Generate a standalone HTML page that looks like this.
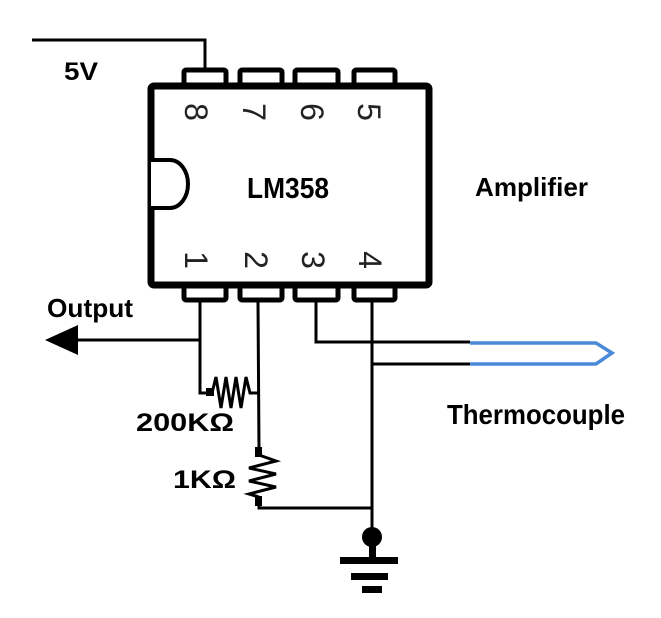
<!DOCTYPE html>
<html><head><meta charset="utf-8"><style>body{margin:0;background:#fff}svg{display:block}</style></head>
<body>
<svg width="661" height="618" viewBox="0 0 661 618" xmlns="http://www.w3.org/2000/svg" font-family="Liberation Sans, sans-serif">
<rect width="661" height="618" fill="#fff"/>
<g fill="none" stroke="#000" stroke-width="3">
<polyline points="32,40 205,40 205,68"/>
<line x1="75" y1="340" x2="200" y2="340"/>
<polyline points="200,302 200,393 212,393"/>
<polyline points="212,393 216,377 221,408 226,377 231,408 236,377 241,408 246,377 250,393 258,393"/>
<line x1="258" y1="302" x2="259" y2="450"/>
<polyline points="259,455 276,461 249,468 276,474 249,481 276,487 249,494 259,497"/>
<polyline points="259,497 259,508 372,508"/>
<polyline points="316,302 316,342 470,342"/>
<line x1="372" y1="302" x2="372" y2="545"/>
<line x1="372" y1="364" x2="470" y2="364"/>
</g>
<rect x="255" y="447" width="7" height="10" fill="#000"/>
<rect x="255" y="496" width="7" height="10" fill="#000"/>
<rect x="206" y="388" width="8" height="8" fill="#000"/>
<polygon points="45,340 78,325 78,355" fill="#000"/>
<polyline points="470,343 596,343 612,353 596,364 470,364" fill="none" stroke="#4a8ad8" stroke-width="3.5"/>
<circle cx="372" cy="537" r="10" fill="#000"/>
<rect x="369" y="540" width="7" height="18" fill="#000"/>
<rect x="340" y="557" width="58" height="7" fill="#000"/>
<rect x="351" y="573" width="37" height="7" fill="#000"/>
<rect x="362" y="586" width="20" height="7" fill="#000"/>
<g fill="#fff" stroke="#000" stroke-width="5">
<rect x="184" y="70" width="42" height="16" rx="2"/>
<rect x="240" y="70" width="42" height="16" rx="2"/>
<rect x="295" y="70" width="43" height="16" rx="2"/>
<rect x="354" y="70" width="41" height="16" rx="2"/>
<rect x="184" y="285" width="42" height="15" rx="2"/>
<rect x="240" y="285" width="42" height="15" rx="2"/>
<rect x="295" y="285" width="43" height="15" rx="2"/>
<rect x="354" y="285" width="41" height="15" rx="2"/>
<rect x="151" y="86" width="278" height="199" stroke-width="7" rx="3"/>
<path d="M151,160 L170,160 A18,24 0 0 1 170,208 L151,208" stroke-width="4"/>
</g>
<g font-size="32" fill="#222" text-anchor="middle">
<text transform="translate(196,112) rotate(90)" dy="11">8</text>
<text transform="translate(254,112) rotate(90)" dy="11">7</text>
<text transform="translate(312,112) rotate(90)" dy="11">6</text>
<text transform="translate(369,112) rotate(90)" dy="11">5</text>
<text transform="translate(196,260) rotate(90)" dy="11">1</text>
<text transform="translate(256,260) rotate(90)" dy="11">2</text>
<text transform="translate(313,260) rotate(90)" dy="11">3</text>
<text transform="translate(370,260) rotate(90)" dy="11">4</text>
</g>
<g font-weight="bold" fill="#000">
<text x="64" y="80" font-size="25" textLength="34" lengthAdjust="spacingAndGlyphs">5V</text>
<text x="247" y="198" font-size="29" textLength="82" lengthAdjust="spacingAndGlyphs">LM358</text>
<text x="475" y="196" font-size="26" textLength="113" lengthAdjust="spacingAndGlyphs">Amplifier</text>
<text x="47" y="317" font-size="26" textLength="86" lengthAdjust="spacingAndGlyphs">Output</text>
<text x="447" y="424" font-size="28" textLength="178" lengthAdjust="spacingAndGlyphs">Thermocouple</text>
<text x="136" y="431" font-size="25" textLength="98" lengthAdjust="spacingAndGlyphs">200KΩ</text>
<text x="173" y="488" font-size="25" textLength="63" lengthAdjust="spacingAndGlyphs">1KΩ</text>
</g>
</svg>
</body></html>
